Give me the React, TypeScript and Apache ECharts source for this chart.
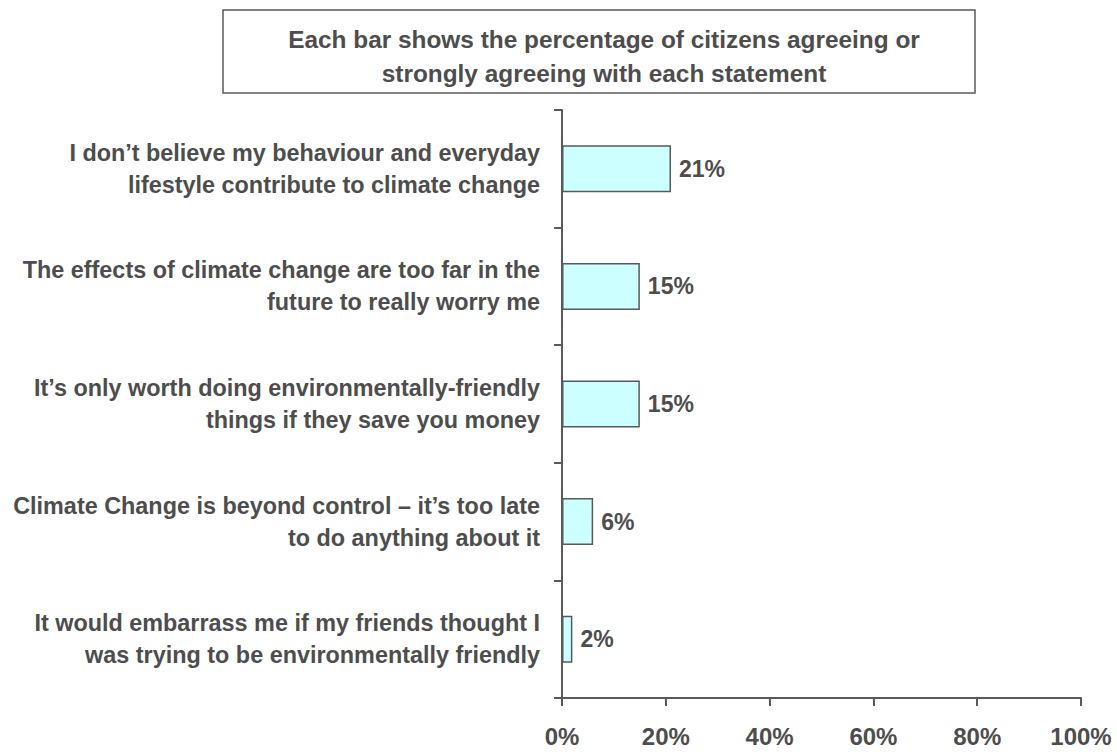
import React, { useEffect, useRef } from "react";
import * as echarts from "echarts";

const statements = [
  "I don\u2019t believe my behaviour and everyday\nlifestyle contribute to climate change",
  "The effects of climate change are too far in the\nfuture to really worry me",
  "It\u2019s only worth doing environmentally-friendly\nthings if they save you money",
  "Climate Change is beyond control \u2013 it\u2019s too late\nto do anything about it",
  "It would embarrass me if my friends thought I\nwas trying to be environmentally friendly",
];
const agreePct = [21, 15, 15, 6, 2];
const titleText = "Each bar shows the percentage of citizens agreeing or\nstrongly agreeing with each statement";

const FONT = '"Liberation Sans", Arial, sans-serif';
const TEXT = "#4d4d4d";
const LINE = "#595959";

export default function App() {
  const ref = useRef<HTMLDivElement>(null);
  useEffect(() => {
    if (!ref.current) return;
    const chart = echarts.init(ref.current, undefined, { renderer: "svg" });
    chart.setOption({
      animation: false,
      backgroundColor: "#ffffff",
      textStyle: { fontFamily: FONT },
      graphic: [
        {
          type: "rect",
          shape: { x: 223, y: 10, width: 752, height: 83 },
          style: { fill: "#ffffff", stroke: LINE, lineWidth: 1.5 },
          z: 0,
        },
      ],
      title: {
        text: titleText,
        left: 599,
        top: 51,
        textAlign: "center",
        textVerticalAlign: "middle",
        textStyle: {
          fontFamily: FONT,
          fontWeight: "bold",
          fontSize: 24.4,
          lineHeight: 34,
          color: TEXT,
        },
        z: 10,
      },
      grid: {
        left: 562,
        right: 36,
        top: 110,
        bottom: 58,
        containLabel: false,
        outerBoundsMode: "none",
      },
      xAxis: {
        type: "value",
        min: 0,
        max: 100,
        interval: 20,
        axisLine: { show: true, lineStyle: { color: LINE, width: 2 } },
        axisTick: { show: true, length: 8, lineStyle: { color: LINE, width: 2 } },
        splitLine: { show: false },
        axisLabel: {
          formatter: "{value}%",
          margin: 26,
          fontFamily: FONT,
          fontWeight: "bold",
          fontSize: 24,
          lineHeight: 24,
          color: TEXT,
        },
      },
      yAxis: {
        type: "category",
        inverse: true,
        data: statements,
        axisLine: { show: true, lineStyle: { color: LINE, width: 2 } },
        axisTick: { show: true, length: 8, alignWithLabel: false, lineStyle: { color: LINE, width: 2 } },
        axisLabel: {
          margin: 22,
          fontFamily: FONT,
          fontWeight: "bold",
          fontSize: 23.4,
          lineHeight: 32,
          color: TEXT,
          align: "right",
        },
      },
      series: [
        {
          type: "bar",
          data: agreePct,
          barWidth: "40%",
          itemStyle: { color: "#ccffff", borderColor: LINE, borderWidth: 1.5 },
          label: {
            show: true,
            position: "right",
            distance: 8,
            formatter: "{c}%",
            fontFamily: FONT,
            fontWeight: "bold",
            fontSize: 23,
            color: TEXT,
          },
        },
      ],
    });
    return () => chart.dispose();
  }, []);
  return (
    <div
      ref={ref}
      style={{ position: "fixed", left: 0, top: 0, width: 1117, height: 756 }}
    />
  );
}
